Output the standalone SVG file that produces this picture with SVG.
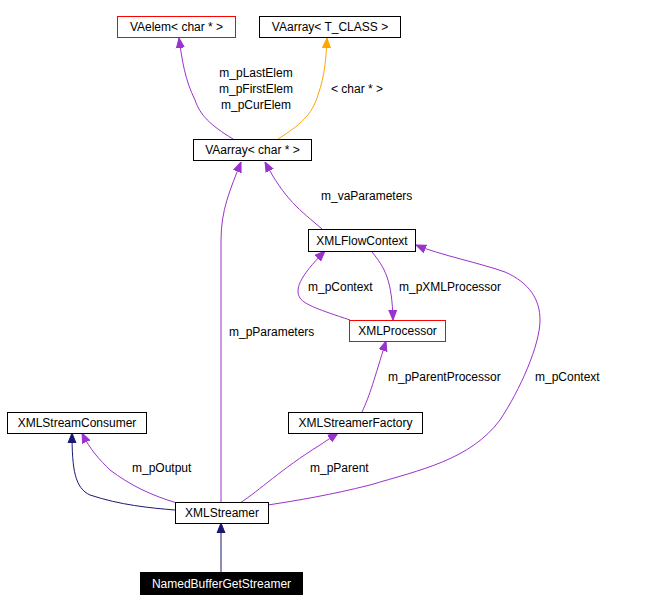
<svg xmlns="http://www.w3.org/2000/svg" width="655" height="612" viewBox="0 0 655 612">
<defs>
<style>
.n{fill:#fff;stroke:#000;stroke-width:1}
.r{fill:#fff;stroke:#f00;stroke-width:1}
text{font-family:"Liberation Sans",Arial,sans-serif;font-size:12px;fill:#000}
.e{fill:none;stroke:#9a32cd;stroke-width:1}
.b{fill:none;stroke:#191970;stroke-width:1}
.o{fill:none;stroke:#ffa500;stroke-width:1}
</style>
<marker id="mp" viewBox="0 0 10 10" refX="10" refY="5" markerWidth="10" markerHeight="10" markerUnits="userSpaceOnUse" orient="auto"><path d="M0,1L10,5L0,9z" fill="#9a32cd" stroke="#9a32cd"/></marker>
<marker id="mb" viewBox="0 0 10 10" refX="10" refY="5" markerWidth="10" markerHeight="10" markerUnits="userSpaceOnUse" orient="auto"><path d="M0,1L10,5L0,9z" fill="#191970" stroke="#191970"/></marker>
<marker id="mo" viewBox="0 0 10 10" refX="10" refY="5" markerWidth="10" markerHeight="10" markerUnits="userSpaceOnUse" orient="auto"><path d="M0,1L10,5L0,9z" fill="#ffa500" stroke="#ffa500"/></marker>
</defs>
<rect width="655" height="612" fill="#fff"/>
<g id="edges">
<path class="e" marker-end="url(#mp)" d="M233,139C210,125 200,115 195,100C185,80 182,60 179,38"/>
<path class="o" marker-end="url(#mo)" d="M278,139C300,125 312,115 318,95C325,75 326,58 327,38"/>
<path class="e" marker-end="url(#mp)" d="M322,229C300,210 285,200 265,162"/>
<path class="e" marker-end="url(#mp)" d="M221,503L221,240C221,210 230,190 241,162"/>
<path class="e" marker-end="url(#mp)" d="M350,320C320,310 305,305 300,298C295,290 298,278 325,251"/>
<path class="e" marker-end="url(#mp)" d="M372,252C385,268 392,280 393,320"/>
<path class="e" marker-end="url(#mp)" d="M362,412C370,395 374,380 386,341"/>
<path class="e" marker-end="url(#mp)" d="M268,505C300,500 330,495 370,485C420,470 470,460 500,420C520,390 540,345 540,320C540,300 530,283 505,272C480,263 440,255 416,245"/>
<path class="e" marker-end="url(#mp)" d="M240,503C260,490 280,470 320,445L338,433"/>
<path class="e" marker-end="url(#mp)" d="M177,503C150,495 130,485 110,470C100,460 90,450 82,433"/>
<path class="b" marker-end="url(#mb)" d="M175,510C150,508 120,505 90,495C75,488 72,470 72,433"/>
<path class="b" marker-end="url(#mb)" d="M221,572L221,523"/>
</g>
<g id="VAelem"><rect class="r" x="117.5" y="16.5" width="118" height="21"/><text x="176.5" y="31" text-anchor="middle">VAelem&lt; char * &gt;</text></g>
<g id="VAarrayT"><rect class="n" x="259.5" y="16.5" width="141" height="21"/><text x="330" y="31" text-anchor="middle">VAarray&lt; T_CLASS &gt;</text></g>
<g id="VAarrayChar"><rect class="n" x="193.5" y="139.5" width="118" height="21"/><text x="252.5" y="154" text-anchor="middle">VAarray&lt; char * &gt;</text></g>
<g id="XMLFlowContext"><rect class="n" x="308.5" y="229.5" width="107" height="22"/><text x="362" y="245" text-anchor="middle">XMLFlowContext</text></g>
<g id="XMLProcessor"><rect class="r" x="349.5" y="320.5" width="96" height="21"/><text x="397.5" y="335" text-anchor="middle">XMLProcessor</text></g>
<g id="XMLStreamConsumer"><rect class="n" x="7.5" y="412.5" width="139" height="21"/><text x="77" y="427" text-anchor="middle">XMLStreamConsumer</text></g>
<g id="XMLStreamerFactory"><rect class="n" x="288.5" y="412.5" width="134" height="21"/><text x="355.5" y="427" text-anchor="middle">XMLStreamerFactory</text></g>
<g id="XMLStreamer"><rect class="n" x="175.5" y="502.5" width="93" height="21"/><text x="222" y="517" text-anchor="middle">XMLStreamer</text></g>
<g id="NamedBufferGetStreamer"><rect x="140.5" y="572.5" width="162" height="22" fill="#000" stroke="#000"/><text x="221.5" y="588" text-anchor="middle" style="fill:#fff">NamedBufferGetStreamer</text></g>
<g id="labels">
<text x="256" y="77" text-anchor="middle">m_pLastElem</text>
<text x="256" y="93" text-anchor="middle">m_pFirstElem</text>
<text x="256" y="109" text-anchor="middle">m_pCurElem</text>
<text x="331" y="93">&lt; char * &gt;</text>
<text x="321" y="200">m_vaParameters</text>
<text x="308" y="291">m_pContext</text>
<text x="399" y="291">m_pXMLProcessor</text>
<text x="229" y="336">m_pParameters</text>
<text x="388" y="381">m_pParentProcessor</text>
<text x="535" y="381">m_pContext</text>
<text x="132" y="472">m_pOutput</text>
<text x="310" y="472">m_pParent</text>
</g>
</svg>
